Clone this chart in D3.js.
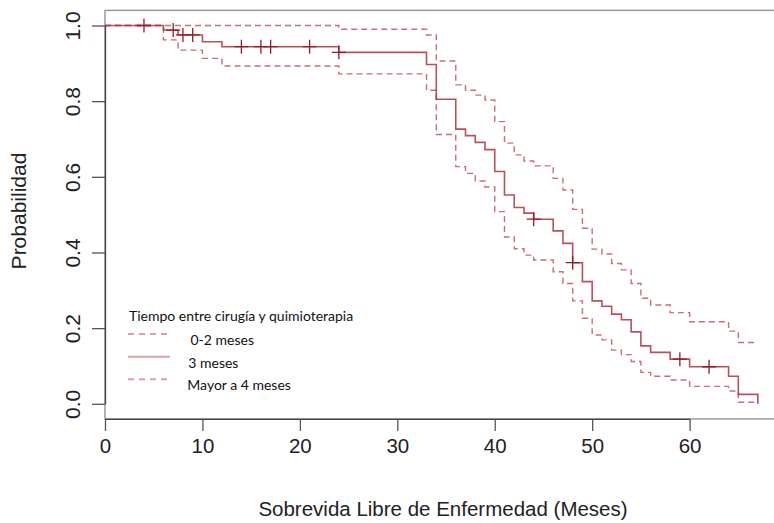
<!DOCTYPE html>
<html>
<head>
<meta charset="utf-8">
<script src="https://cdn.jsdelivr.net/npm/d3@7.9.0/dist/d3.min.js"></script>
<style>
  html, body { margin: 0; padding: 0; background: #fff; }
  svg { display: block; }
  .axis text { font-family: "Liberation Sans", Arial, sans-serif; }
</style>
</head>
<body>
<svg id="chart" width="774" height="523"></svg>
<script>
// event times (months) shared by curve and bands
const times = [0, 6, 7.5, 10, 12, 24, 33, 34, 36, 37, 38, 39, 40, 41, 42, 43, 44, 46, 47, 48, 49, 50, 51, 52, 53, 54, 55, 56, 58, 60, 64, 65, 67];
const survival = [1, 0.988, 0.975, 0.957, 0.944, 0.929, 0.897, 0.805, 0.726, 0.709, 0.691, 0.672, 0.614, 0.552, 0.519, 0.504, 0.488, 0.457, 0.424, 0.373, 0.323, 0.272, 0.258, 0.237, 0.222, 0.19, 0.153, 0.136, 0.118, 0.098, 0.073, 0.025, 0];
const upperCI = [1, 1, 1, 1, 1, 0.99, 0.975, 0.906, 0.843, 0.829, 0.816, 0.803, 0.746, 0.689, 0.658, 0.642, 0.629, 0.596, 0.565, 0.514, 0.464, 0.409, 0.396, 0.371, 0.354, 0.318, 0.279, 0.261, 0.241, 0.217, 0.192, 0.162, 0.162];
const lowerCI = [1, 0.962, 0.935, 0.913, 0.893, 0.872, 0.829, 0.712, 0.627, 0.609, 0.589, 0.573, 0.508, 0.441, 0.41, 0.393, 0.38, 0.349, 0.318, 0.272, 0.226, 0.182, 0.169, 0.142, 0.13, 0.112, 0.083, 0.073, 0.063, 0.046, 0.034, 0.004, 0.004];
const censored = [4, 7, 8, 9, 14, 16, 17, 21, 24, 44, 48, 59, 62];

const xTicks = [0, 10, 20, 30, 40, 50, 60];
const yTicks = [0, 0.2, 0.4, 0.6, 0.8, 1.0];

const legendTitle = 'Tiempo entre cirugía y quimioterapia';
const legendLabels = ['0-2 meses', '3 meses', 'Mayor a 4 meses'];

const svg = d3.select('#chart');

const x = d3.scaleLinear().domain([0, 60]).range([105, 689.6]);
const y = d3.scaleLinear().domain([0, 1]).range([403.8, 25.5]);

// plot frame (runs off the right edge like the original)
svg.append('rect')
  .attr('x', x(0)).attr('y', y(1.04))
  .attr('width', 700).attr('height', y(-0.04) - y(1.04))
  .attr('fill', 'none').attr('stroke', '#9a9a9a').attr('stroke-width', 1.5);

const toPts = vals => times.map((t, i) => [t, vals[i]]);
const step = d3.line().x(d => x(d[0])).y(d => y(d[1])).curve(d3.curveStepAfter);

const g = svg.append('g');
[upperCI, lowerCI].forEach(band => {
  g.append('path').attr('d', step(toPts(band)))
    .attr('fill', 'none').attr('stroke', '#c2545c').attr('stroke-opacity', 0.85)
    .attr('stroke-width', 1.4).attr('stroke-dasharray', '6,4');
});
g.append('path').attr('d', step(toPts(survival)))
  .attr('fill', 'none').attr('stroke', '#a8343d').attr('stroke-opacity', 0.85)
  .attr('stroke-width', 1.6);

// censor marks
const survAt = t => survival[d3.bisectRight(times, t) - 1];
censored.forEach(t => {
  const cx = x(t), cy = y(survAt(t));
  g.append('path')
    .attr('d', `M${cx - 7},${cy}H${cx + 7}M${cx},${cy - 7}V${cy + 7}`)
    .attr('stroke', '#8e1f28').attr('stroke-width', 1.3);
});

// axes
const xAxis = svg.append('g').attr('class', 'axis')
  .attr('transform', `translate(0,${y(-0.04)})`)
  .call(d3.axisBottom(x).tickValues(xTicks).tickSize(12).tickSizeOuter(0).tickPadding(8).tickFormat(d3.format('d')));
xAxis.select('.domain').attr('stroke', '#444').attr('stroke-width', 1.3);
xAxis.selectAll('.tick line').attr('stroke', '#555').attr('stroke-width', 1.3);
xAxis.selectAll('.tick text').attr('font-size', 20.5).attr('fill', '#222');

const yAxis = svg.append('g').attr('class', 'axis')
  .attr('transform', `translate(${x(0)},0)`)
  .call(d3.axisLeft(y).tickValues(yTicks).tickSize(13).tickSizeOuter(0).tickFormat(d3.format('.1f')));
yAxis.select('.domain').attr('stroke', '#444').attr('stroke-width', 1.3);
yAxis.selectAll('.tick line').attr('stroke', '#555').attr('stroke-width', 1.3);
yAxis.selectAll('.tick text')
  .attr('font-size', 21).attr('fill', '#222')
  .attr('text-anchor', 'middle').attr('dy', 0)
  .attr('transform', 'rotate(-90)')
  .attr('x', 0).attr('y', -25);

// axis titles
svg.append('text')
  .attr('x', 443).attr('y', 516).attr('text-anchor', 'middle')
  .attr('font-family', '"Liberation Sans", Arial, sans-serif')
  .attr('font-size', 20.5).attr('fill', '#222')
  .text('Sobrevida Libre de Enfermedad (Meses)');
svg.append('text')
  .attr('transform', 'translate(26,211) rotate(-90)').attr('text-anchor', 'middle')
  .attr('font-family', '"Liberation Sans", Arial, sans-serif')
  .attr('font-size', 21).attr('fill', '#222')
  .text('Probabilidad');

// legend
const legend = svg.append('g').attr('font-family', 'Lato, "Open Sans", sans-serif').attr('fill', '#111');
legend.append('text').attr('x', 129).attr('y', 320.5).attr('font-size', 14).text(legendTitle);
const legY = [334, 356.7, 379.3];
const legX = [190.5, 188.3, 187.3];
const legDash = ['6,5', null, '6,5'];
legendLabels.forEach((lab, i) => {
  legend.append('line')
    .attr('x1', 128).attr('x2', 170).attr('y1', legY[i]).attr('y2', legY[i])
    .attr('stroke', '#dba3a7').attr('stroke-width', 2)
    .attr('stroke-dasharray', legDash[i]);
  legend.append('text').attr('x', legX[i]).attr('y', legY[i] + 11).attr('font-size', 14).text(lab);
});
</script>
</body>
</html>
